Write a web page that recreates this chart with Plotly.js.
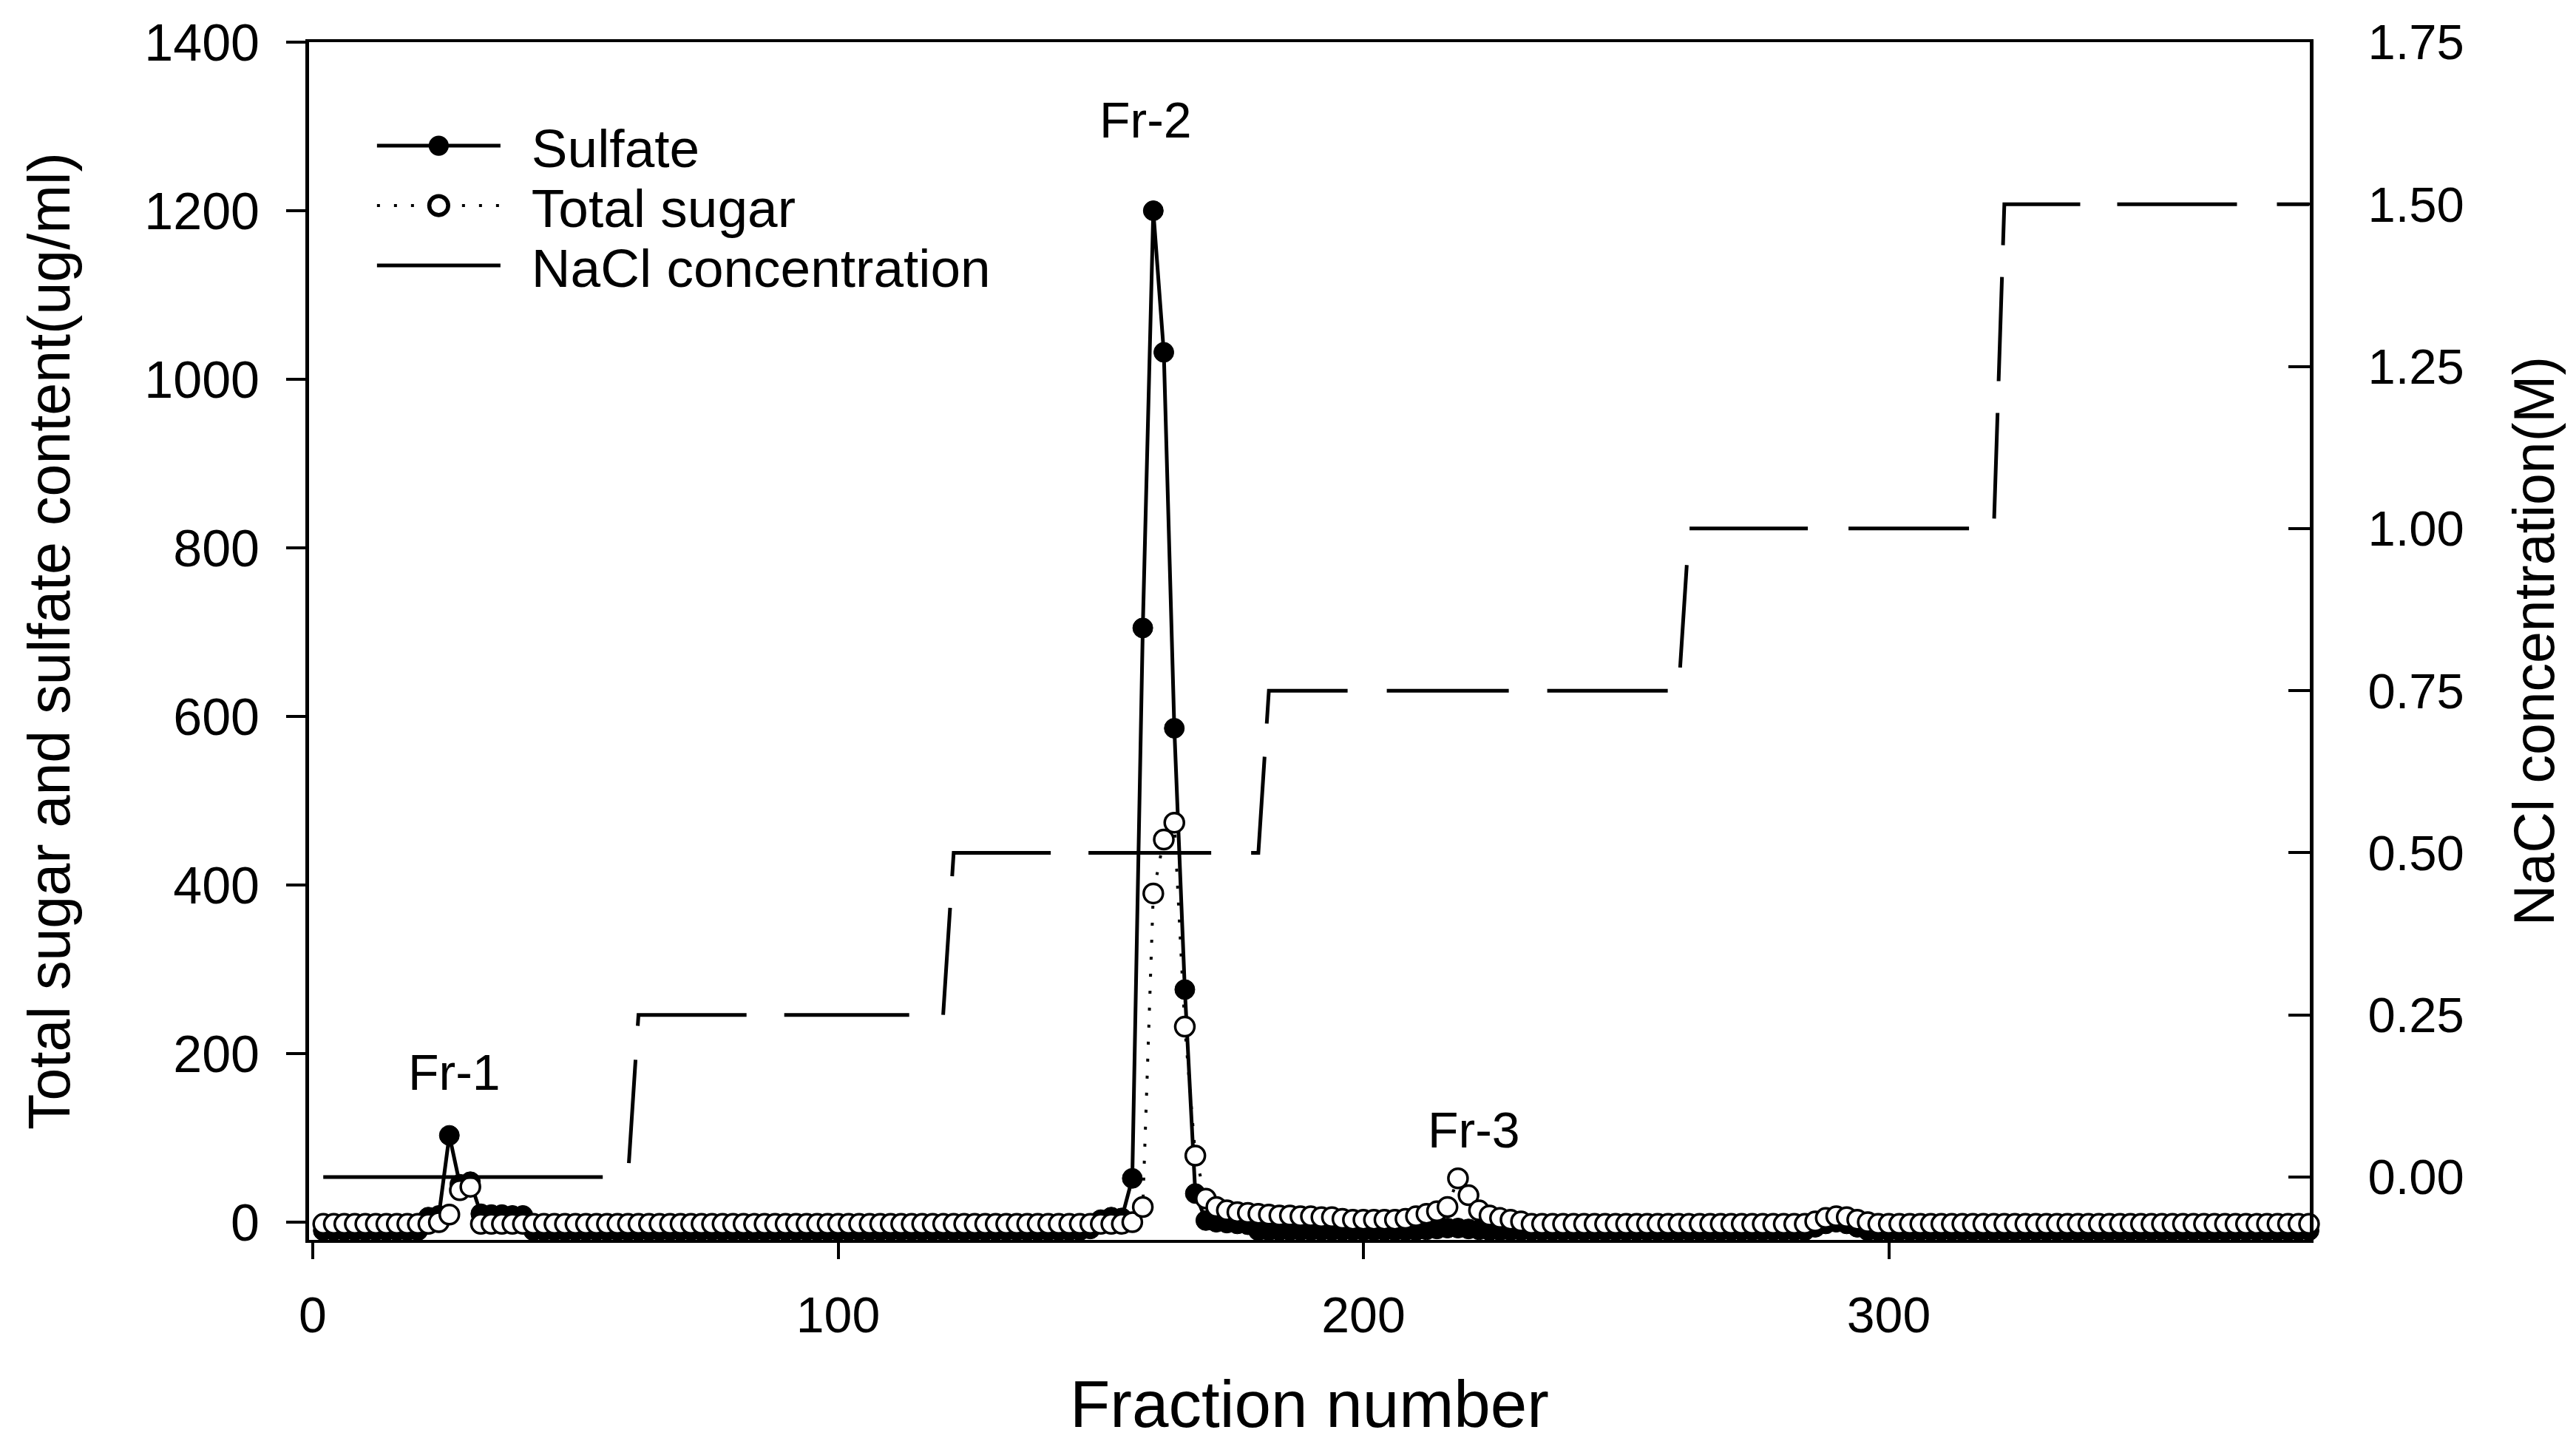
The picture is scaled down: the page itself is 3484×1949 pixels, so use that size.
<!DOCTYPE html>
<html>
<head>
<meta charset="utf-8">
<script src="https://cdn.plot.ly/plotly-3.0.1.min.js"></script>
<style>
  html, body { margin: 0; padding: 0; background: #ffffff; }
  #chart { width: 3484px; height: 1949px; }
</style>
</head>
<body>
<div id="chart"></div>
<script>
// ---- data ----
const fraction = [
  2,4,6,8,10,12,14,16,18,20,
  22,24,26,28,30,32,34,36,38,40,
  42,44,46,48,50,52,54,56,58,60,
  62,64,66,68,70,72,74,76,78,80,
  82,84,86,88,90,92,94,96,98,100,
  102,104,106,108,110,112,114,116,118,120,
  122,124,126,128,130,132,134,136,138,140,
  142,144,146,148,150,152,154,156,158,160,
  162,164,166,168,170,172,174,176,178,180,
  182,184,186,188,190,192,194,196,198,200,
  202,204,206,208,210,212,214,216,218,220,
  222,224,226,228,230,232,234,236,238,240,
  242,244,246,248,250,252,254,256,258,260,
  262,264,266,268,270,272,274,276,278,280,
  282,284,286,288,290,292,294,296,298,300,
  302,304,306,308,310,312,314,316,318,320,
  322,324,326,328,330,332,334,336,338,340,
  342,344,346,348,350,352,354,356,358,360,
  362,364,366,368,370,372,374,376,378,380
];

const sulfate = [
  -10,-10,-10,-10,-10,-10,-10,-10,-10,-10,
  6,8,103,45,48,10,9,9,8,8,
  -10,-10,-10,-10,-10,-10,-10,-10,-10,-10,
  -10,-10,-10,-10,-10,-10,-10,-10,-10,-10,
  -10,-10,-10,-10,-10,-10,-10,-10,-10,-10,
  -10,-10,-10,-10,-10,-10,-10,-10,-10,-10,
  -10,-10,-10,-10,-10,-10,-10,-10,-10,-10,
  -10,-10,-10,-8,3,6,5,52,705,1200,
  1032,586,276,34,2,0,-1,-2,-3,-10,
  -10,-10,-10,-10,-10,-10,-10,-10,-10,-10,
  -10,-10,-10,-10,-10,-9,-8,-7,-7,-8,
  -9,-10,-10,-10,-10,-10,-10,-10,-10,-10,
  -10,-10,-10,-10,-10,-10,-10,-10,-10,-10,
  -10,-10,-10,-10,-10,-10,-10,-10,-10,-10,
  -10,-10,-6,-2,0,-2,-6,-10,-10,-10,
  -10,-10,-10,-10,-10,-10,-10,-10,-10,-10,
  -10,-10,-10,-10,-10,-10,-10,-10,-10,-10,
  -10,-10,-10,-10,-10,-10,-10,-10,-10,-10,
  -10,-10,-10,-10,-10,-10,-10,-10,-10,-10
];

const totalSugar = [
  -2,-2,-2,-2,-2,-2,-2,-2,-2,-2,
  -2,0,9,38,42,-2,-2,-2,-2,-2,
  -2,-2,-2,-2,-2,-2,-2,-2,-2,-2,
  -2,-2,-2,-2,-2,-2,-2,-2,-2,-2,
  -2,-2,-2,-2,-2,-2,-2,-2,-2,-2,
  -2,-2,-2,-2,-2,-2,-2,-2,-2,-2,
  -2,-2,-2,-2,-2,-2,-2,-2,-2,-2,
  -2,-2,-2,-2,-2,-2,-2,0,18,390,
  454,474,232,79,28,18,14,12,11,10,
  9,8,8,7,7,6,6,4,3,3,
  3,3,3,4,7,10,13,18,52,32,
  14,8,5,3,1,-2,-2,-2,-2,-2,
  -2,-2,-2,-2,-2,-2,-2,-2,-2,-2,
  -2,-2,-2,-2,-2,-2,-2,-2,-2,-2,
  -2,-2,1,5,7,6,3,0,-2,-2,
  -2,-2,-2,-2,-2,-2,-2,-2,-2,-2,
  -2,-2,-2,-2,-2,-2,-2,-2,-2,-2,
  -2,-2,-2,-2,-2,-2,-2,-2,-2,-2,
  -2,-2,-2,-2,-2,-2,-2,-2,-2,-2
];

const naclFraction = [2, 60, 62, 120, 122, 180, 182, 260, 262, 320, 322, 380];
const naclConc     = [0, 0, 0.25, 0.25, 0.5, 0.5, 0.75, 0.75, 1.0, 1.0, 1.5, 1.5];

const xTicks  = [0, 100, 200, 300];
const yTicks  = [0, 200, 400, 600, 800, 1000, 1200, 1400];
const y2Ticks = [0, 0.25, 0.5, 0.75, 1.0, 1.25, 1.5, 1.75];

const peakLabels = ['Fr-1', 'Fr-2', 'Fr-3'];
const peakLabelX = [27, 158.5, 221];
const peakLabelY = [178, 1308, 110];

// ---- styling ----
const FONT = 'Liberation Sans, Arial, Helvetica, sans-serif';
const naclDash = ['378','53','140','46','161','51','169','46','145','43','163','51','166','54',
  '140','45','151','53','165','52','163','46','139','50','160','55','163','47','143','43',
  '141','43','158','50','162','54','60','100'].map(v => v + 'px').join(',');

const traces = [
  {
    name: 'Sulfate', x: fraction, y: sulfate, type: 'scatter', mode: 'lines+markers',
    line: {color: 'black', width: 5},
    marker: {symbol: 'circle', size: 27, color: 'black', line: {color: 'black', width: 1}},
    cliponaxis: false
  },
  {
    name: 'Total sugar', x: fraction, y: totalSugar, type: 'scatter', mode: 'lines+markers',
    line: {color: 'black', width: 4, dash: '4px,19px'},
    marker: {symbol: 'circle', size: 26, color: 'white', line: {color: 'black', width: 3.5}},
    cliponaxis: false
  },
  {
    name: 'NaCl concentration', x: naclFraction, y: naclConc, type: 'scatter', mode: 'lines',
    yaxis: 'y2',
    line: {color: 'black', width: 5, dash: naclDash},
    cliponaxis: false
  }
];

const annotations = peakLabels.map((t, i) => ({
  text: t, x: peakLabelX[i], y: peakLabelY[i], xref: 'x', yref: 'y',
  showarrow: false, font: {family: FONT, size: 68, color: 'black'}
}));

const layout = {
  width: 3484, height: 1949,
  margin: {l: 418, r: 360, t: 57, b: 272, pad: 0},
  paper_bgcolor: 'white', plot_bgcolor: 'white',
  font: {family: FONT, size: 67, color: 'black'},
  showlegend: true,
  legend: {
    x: 0.0321, y: 0.945, xanchor: 'left', yanchor: 'top',
    bgcolor: 'rgba(0,0,0,0)', borderwidth: 0,
    font: {family: FONT, size: 73, color: 'black'},
    itemwidth: 204, tracegroupgap: 0
  },
  xaxis: {
    range: [-0.704, 380.15], tickvals: xTicks, ticks: 'outside', ticklen: 22, tickwidth: 4,
    tickcolor: 'black', showline: true, linewidth: 4, linecolor: 'black', mirror: true,
    showgrid: false, zeroline: false, ticklabelstandoff: 17,
    tickfont: {family: FONT, size: 68},
    title: {text: 'Fraction number', font: {family: FONT, size: 89}, standoff: 93}
  },
  yaxis: {
    range: [-21, 1400], tickvals: yTicks, ticks: 'outside', ticklen: 26, tickwidth: 4,
    tickcolor: 'black', showline: true, linewidth: 5, linecolor: 'black',
    showgrid: false, zeroline: false, ticklabelstandoff: 22,
    tickfont: {family: FONT, size: 70},
    title: {text: 'Total sugar and sulfate content(ug/ml)', font: {family: FONT, size: 79}, standoff: 76}
  },
  yaxis2: {
    overlaying: 'y', side: 'right', range: [-0.0969, 1.75], tickvals: y2Ticks, tickformat: '.2f',
    ticks: 'inside', ticklen: 29, tickwidth: 4, tickcolor: 'black',
    showline: true, linewidth: 5, linecolor: 'black',
    showgrid: false, zeroline: false, ticklabelstandoff: 60,
    tickfont: {family: FONT, size: 67},
    title: {text: 'NaCl concentration(M)', font: {family: FONT, size: 77}, standoff: 70}
  },
  annotations: annotations
};

Plotly.newPlot('chart', traces, layout, {staticPlot: true, displayModeBar: false}).then(gd => {
  // lengthen the legend line samples and tighten the rows as in the original figure
  const items = gd.querySelectorAll('.legend .traces');
  let y0 = null, x0 = 0;
  items.forEach((tr, i) => {
    const m = /translate\(\s*([-\d.]+)[ ,]+([-\d.]+)\s*\)/.exec(tr.getAttribute('transform') || '');
    if (m) {
      if (y0 === null) { x0 = +m[1]; y0 = +m[2] - 3; }
      tr.setAttribute('transform', 'translate(' + x0 + ',' + (y0 + i * 81) + ')');
    }
    tr.querySelectorAll('.legendlines path').forEach(p => p.setAttribute('d', 'M5,0h167'));
    tr.querySelectorAll('.legendpoints path.scatterpts').forEach(p => {
      p.setAttribute('transform', 'translate(88.5,0) scale(1.6)');
    });
  });
});
</script>
</body>
</html>
